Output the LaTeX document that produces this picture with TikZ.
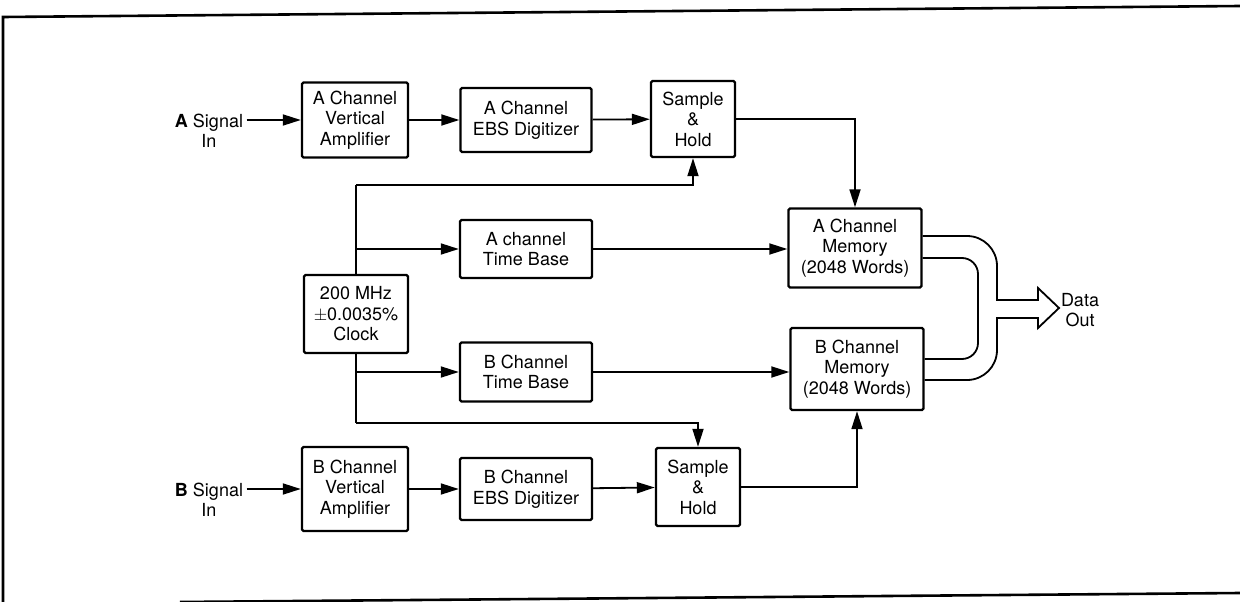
\documentclass[tikz,border=0pt]{standalone}
\usepackage{fontspec}
\setmainfont{TeX Gyre Heros}
\usetikzlibrary{arrows.meta}

\begin{document}
\begin{tikzpicture}[x=1pt, y=-1pt,
    every node/.style={font=\fontsize{18}{20.5}\selectfont, align=center},
    block/.style={draw, line width=2.4pt, rounded corners=1.5pt, inner sep=0pt},
    conn/.style={line width=1.8pt, -{Triangle[length=18pt,width=11pt]}},
    wire/.style={line width=1.8pt},
    bus/.style={line width=1.8pt, line join=miter}]

    \useasboundingbox (0,0) rectangle (1240,602);

    % Frame
    \draw[line width=2.6pt] (3,602) -- (3,17) -- (1240,6);
    \draw[line width=2.6pt] (180,602) -- (1240,593);

    % Signal inputs
    \node (sigA) at (209,131) {\textbf{A} Signal\\In};
    \node (sigB) at (209,500) {\textbf{B} Signal\\In};

    % A channel
    \node[block, minimum width=106pt, minimum height=75pt] (ampA) at (355,120) {A Channel\\Vertical\\Amplifier};
    \node[block, minimum width=131pt, minimum height=64pt] (digA) at (526,120) {A Channel\\EBS Digitizer};
    \node[block, minimum width=84pt, minimum height=76pt] (shA) at (693,119) {Sample\\\&\\Hold};

    % Clock and time bases
    \node[block, minimum width=104pt, minimum height=78pt] (clk) at (356,314) {200 MHz\\$\pm$0.0035\%\\Clock};
    \node[block, minimum width=132pt, minimum height=58pt] (tbA) at (526,249) {A channel\\Time Base};
    \node[block, minimum width=132pt, minimum height=59pt] (tbB) at (526,372) {B Channel\\Time Base};

    % Memories
    \node[block, minimum width=133pt, minimum height=79pt] (memA) at (855,248) {A Channel\\Memory\\(2048 Words)};
    \node[block, minimum width=133pt, minimum height=82pt] (memB) at (857,369) {B Channel\\Memory\\(2048 Words)};

    % B channel
    \node[block, minimum width=106pt, minimum height=84pt] (ampB) at (355,489) {B Channel\\Vertical\\Amplifier};
    \node[block, minimum width=132pt, minimum height=62pt] (digB) at (526,489) {B Channel\\EBS Digitizer};
    \node[block, minimum width=84pt, minimum height=78pt] (shB) at (698,487) {Sample\\\&\\Hold};

    \node (out) at (1080,310) {Data\\Out};

    % Signal paths
    \draw[conn] (sigA.east |- ampA.west) -- (ampA.west);
    \draw[conn] (ampA) -- (digA);
    \draw[conn] (digA) -- (shA);
    \draw[conn] (shA.east) -| (memA.north);
    \draw[conn] (sigB.east |- ampB.west) -- (ampB.west);
    \draw[conn] (ampB) -- (digB);
    \draw[conn] (digB) -- (shB);
    \draw[conn] (shB.east) -| (memB.south);

    % Clock distribution
    \coordinate (clkA) at (356,185);
    \coordinate (clkB) at (356,423);
    \draw[wire] (clk.north) -- (clkA);
    \draw[conn] (clkA) -| (shA.south);
    \draw[wire] (clk.south) -- (clkB);
    \draw[conn] (clkB) -| (shB.north);
    \draw[conn] (clk.north |- tbA.west) -- (tbA.west);
    \draw[conn] (clk.south |- tbB.west) -- (tbB.west);
    \draw[conn] (tbA) -- (memA.west |- tbA);
    \draw[conn] (tbB) -- (memB.west |- tbB);

    % Data out bus
    \draw[bus] (memA.east |- 0,236) [rounded corners=30pt] -- (997,236) [sharp corners] -- (997,300)
        -- (1038,300) -- (1038,288) -- (1059,308) -- (1038,328) -- (1038,318) -- (997,318)
        [rounded corners=30pt] -- (997,380) -- (memB.east |- 0,380);
    \draw[bus, rounded corners=16pt] (memA.east |- 0,258) -- (978,258) -- (978,359) -- (memB.east |- 0,359);

\end{tikzpicture}
\end{document}
